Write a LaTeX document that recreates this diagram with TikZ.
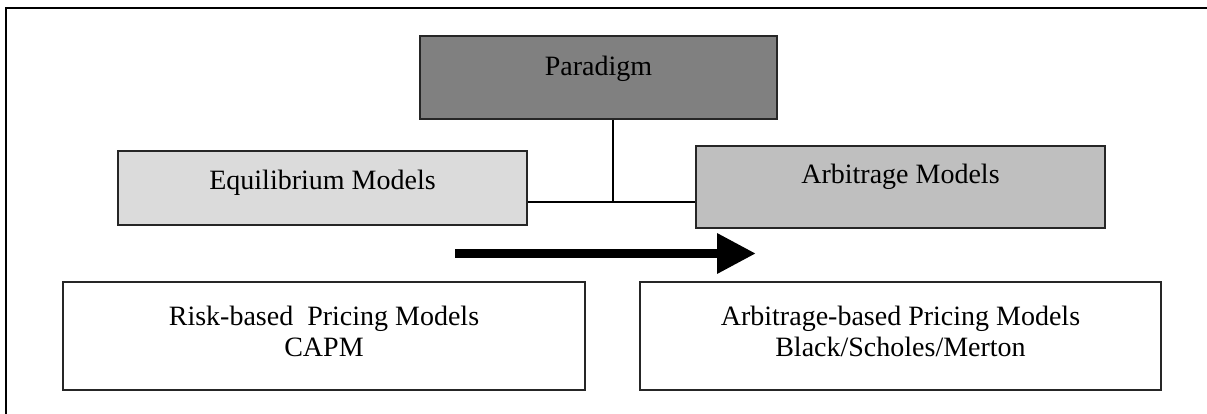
\documentclass[tikz,border=0pt]{standalone}
\usepackage{fontspec}
\setmainfont{Liberation Serif}
\usetikzlibrary{arrows.meta}

\begin{document}
\begin{tikzpicture}[x=1pt,y=-1pt,%
  box/.style={draw=black!85,line width=1.6pt,inner sep=0pt,align=center,
    font=\fontsize{28}{31}\selectfont},
  head/.style={box,fill=black!50,minimum width=357pt,minimum height=83pt,text depth=24pt},
  kind/.style={box,minimum width=409pt},
  model/.style={box,fill=white,minimum width=522pt,minimum height=108pt,text depth=10pt},
  >={Triangle[length=39pt,width=38pt]}]
  \useasboundingbox (0,0) rectangle (1207,414);
  \draw[line width=2pt] (6,414) -- (6,8) -- (1207,8);
  \node[head] (para) at (598.5,77.5) {Paradigm};
  \node[kind,fill=black!14,minimum height=74pt,text depth=16pt] (equi) at (322.5,188) {Equilibrium Models};
  \node[kind,fill=black!25,minimum height=82pt,text depth=26pt] (arbi) at (900.5,187) {Arbitrage Models};
  \node[model] (risk) at (324,336) {Risk-based\ \ Pricing Models\\CAPM};
  \node[model,minimum width=521pt] (abpm) at (900.5,336)
    {Arbitrage-based Pricing Models\\Black/Scholes/Merton};
  % connectors
  \coordinate (j) at (613,202);
  \draw[line width=1.6pt] (para.south -| j) -- (j);
  \draw[line width=1.6pt] (equi.east |- j) -- (arbi.west |- j);
  \coordinate (a1) at (455,253.5); \coordinate (a2) at (756,253.5);
  \draw[->,line width=9.5pt] (a1) -- (a2);
\end{tikzpicture}
\end{document}
